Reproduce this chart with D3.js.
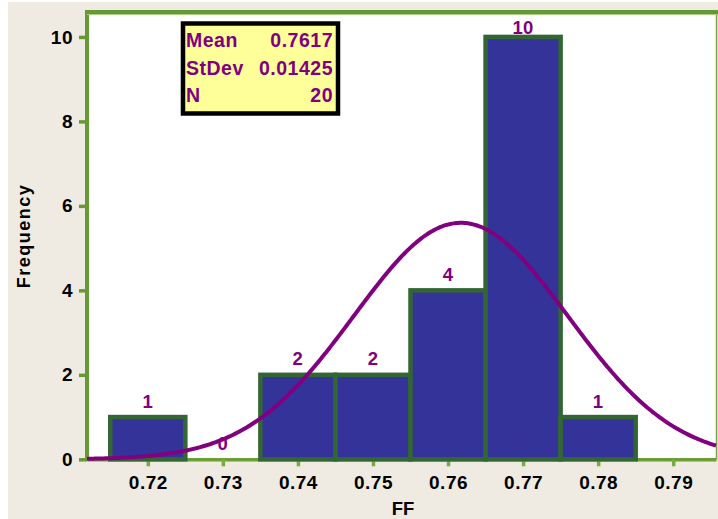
<!DOCTYPE html>
<html>
<head>
<meta charset="utf-8">
<script src="https://cdn.jsdelivr.net/npm/d3@7"></script>
<style>
  html, body { margin: 0; padding: 0; background: #ffffff; }
  svg { display: block; }
  text { font-family: "Liberation Sans", Arial, sans-serif; font-weight: bold; }
</style>
</head>
<body>
<svg id="chart" width="718" height="519"></svg>
<script>
// Histogram of FF values (bin width 0.01) with fitted normal curve
const binCenters = [0.72, 0.73, 0.74, 0.75, 0.76, 0.77, 0.78];
const binCounts  = [1, 0, 2, 2, 4, 10, 1];
const binWidth = 0.01;
const xTickValues = [0.72, 0.73, 0.74, 0.75, 0.76, 0.77, 0.78, 0.79];
const yTickValues = [0, 2, 4, 6, 8, 10];
const statNames  = ["Mean", "StDev", "N"];
const statValues = ["0.7617", "0.01425", "20"];
const fitMean = 0.7617;
const fitSd = 0.01425;
const fitN = 20;

const W = 718, H = 519;
const plot = { left: 87, right: 716, top: 12, bottom: 459.3 };

const svg = d3.select("#chart");

// page background
svg.append("rect").attr("x", 8).attr("y", 2).attr("width", W - 8).attr("height", H - 2)
  .attr("fill", "#efebe2");

const x = d3.scaleLinear().domain([0.7119, 0.7957]).range([plot.left, plot.right]);
const y = d3.scaleLinear().domain([0, 10.59]).range([plot.bottom, plot.top]);

// plot area
svg.append("rect")
  .attr("x", plot.left).attr("y", plot.top)
  .attr("width", plot.right - plot.left).attr("height", plot.bottom - plot.top)
  .attr("fill", "#ffffff");

// right frame edge
svg.append("line")
  .attr("x1", plot.right + 0.5).attr("x2", plot.right + 0.5)
  .attr("y1", plot.top).attr("y2", plot.bottom)
  .attr("stroke", "#7aa84e").attr("stroke-width", 1.5);

const tickFont = sel => sel.attr("fill", "#000").attr("font-size", "19px")
  .attr("letter-spacing", "0.5px").attr("font-family", "Liberation Sans, Arial, sans-serif")
  .attr("font-weight", "bold");

// x axis
const xAxis = svg.append("g")
  .attr("transform", `translate(0,${plot.bottom})`)
  .call(d3.axisBottom(x).tickValues(xTickValues).tickFormat(d3.format(".2f"))
    .tickSize(7).tickSizeOuter(0).tickPadding(9));
xAxis.select(".domain").attr("stroke", "#6b9e35").attr("stroke-width", 3.5);
xAxis.selectAll(".tick line").attr("stroke", "#77ab45").attr("stroke-width", 3.5);
xAxis.selectAll(".tick text").call(tickFont);

// y axis
const yAxis = svg.append("g")
  .attr("transform", `translate(${plot.left},0)`)
  .call(d3.axisLeft(y).tickValues(yTickValues).tickFormat(d3.format("d"))
    .tickSize(8).tickSizeOuter(0).tickPadding(6));
yAxis.select(".domain").attr("stroke", "#669933").attr("stroke-width", 4)
  .attr("d", `M0,${plot.top - 2}V${plot.bottom + 1}`);
yAxis.selectAll(".tick line").attr("stroke", "#669933").attr("stroke-width", 3.5);
yAxis.selectAll(".tick text").call(tickFont);

// histogram bars
const bins = binCenters.map((c, i) => ({ c, n: binCounts[i] }));
svg.append("g").selectAll("rect").data(bins).join("rect")
  .attr("x", d => x(d.c - binWidth / 2))
  .attr("width", d => x(d.c + binWidth / 2) - x(d.c - binWidth / 2))
  .attr("y", d => y(d.n))
  .attr("height", d => y(0) - y(d.n))
  .attr("fill", "#333399")
  .attr("stroke", "#336633")
  .attr("stroke-width", 4.5);

// count labels
svg.append("g").selectAll("text").data(bins).join("text")
  .attr("x", d => x(d.c))
  .attr("y", d => Math.max(y(d.n) - 9.5, 33.5))
  .attr("text-anchor", "middle")
  .attr("fill", "#800080")
  .attr("font-size", "18.5px")
  .attr("letter-spacing", "0.4px")
  .text(d => d.n);

// fitted normal curve, scaled to counts
const scale = fitN * binWidth / (fitSd * Math.sqrt(2 * Math.PI));
const xs = d3.range(0, 401).map(i => x.domain()[0] + (x.domain()[1] - x.domain()[0]) * i / 400);
const curve = xs.map(v => [v, scale * Math.exp(-0.5 * ((v - fitMean) / fitSd) ** 2)]);
svg.append("path")
  .datum(curve)
  .attr("fill", "none")
  .attr("stroke", "#800080")
  .attr("stroke-width", 4)
  .attr("d", d3.line().x(d => x(d[0])).y(d => y(d[1])).curve(d3.curveBasis));

// top frame edge
svg.append("line")
  .attr("x1", plot.left - 2).attr("x2", W)
  .attr("y1", plot.top).attr("y2", plot.top)
  .attr("stroke", "#669933").attr("stroke-width", 4);
svg.append("line")
  .attr("x1", plot.left).attr("x2", W)
  .attr("y1", plot.top + 2.5).attr("y2", plot.top + 2.5)
  .attr("stroke", "#a9cc85").attr("stroke-width", 1);

// axis titles
svg.append("text")
  .attr("x", 403).attr("y", 515)
  .attr("text-anchor", "middle").attr("font-size", "18.5px").attr("fill", "#000")
  .text("FF");
svg.append("text")
  .attr("transform", "translate(30,236) rotate(-90)")
  .attr("text-anchor", "middle").attr("font-size", "18px").attr("letter-spacing", "1.5px")
  .attr("fill", "#000")
  .text("Frequency");

// summary statistics box
const box = svg.append("g");
box.append("rect")
  .attr("x", 183).attr("y", 23.5).attr("width", 155).attr("height", 90)
  .attr("fill", "#ffff99").attr("stroke", "#000").attr("stroke-width", 4.5);
const rowY = [46.7, 75, 101.7];
statNames.forEach((name, i) => {
  box.append("text").attr("x", 186).attr("y", rowY[i])
    .attr("fill", "#800080").attr("font-size", "19.5px").attr("letter-spacing", "0.5px")
    .text(name);
  box.append("text").attr("x", 333).attr("y", rowY[i])
    .attr("text-anchor", "end")
    .attr("fill", "#800080").attr("font-size", "19.5px").attr("letter-spacing", "0.5px")
    .text(statValues[i]);
});
</script>
</body>
</html>
